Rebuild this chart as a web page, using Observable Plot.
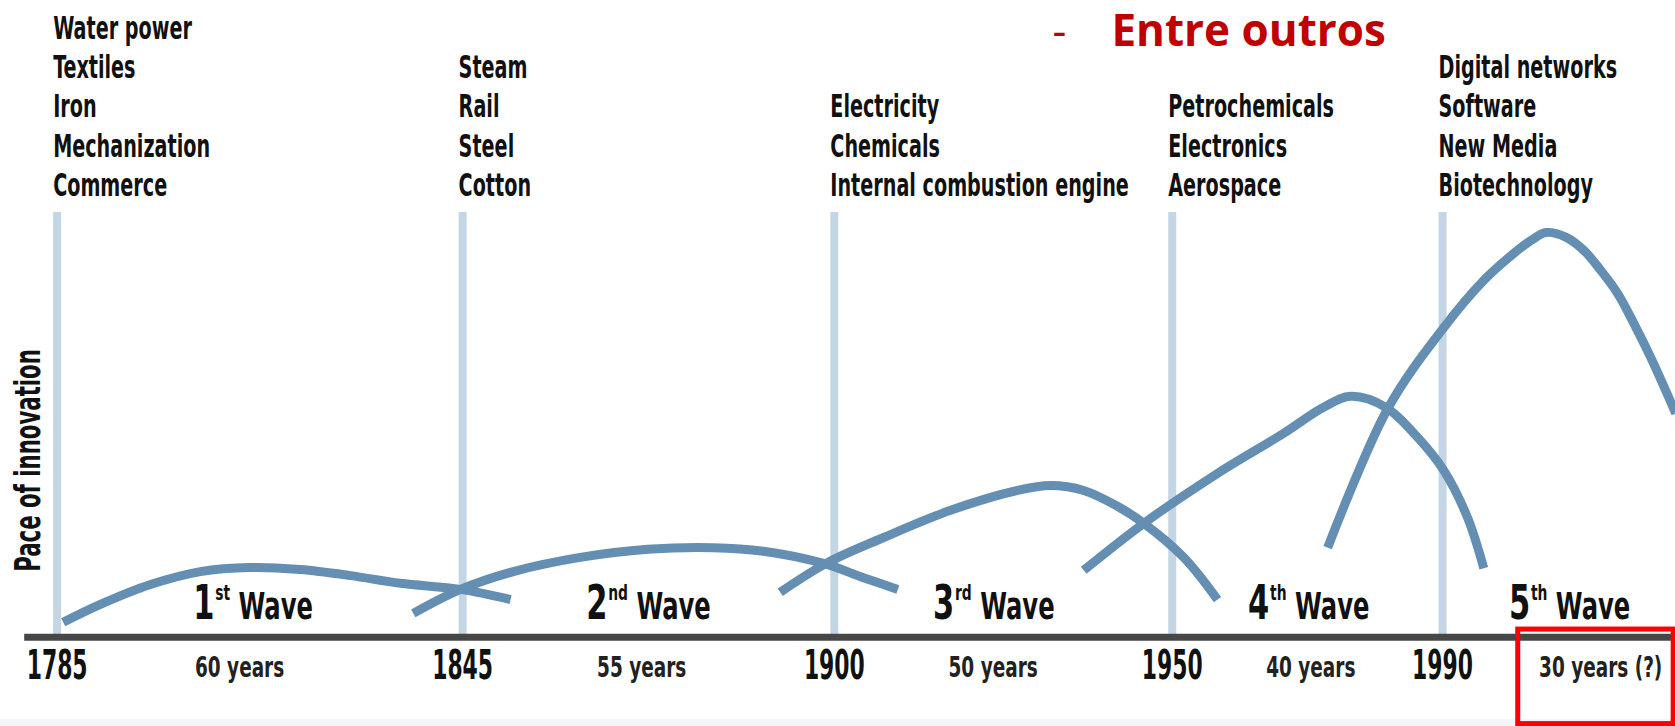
<!DOCTYPE html>
<html>
<head>
<meta charset="utf-8">
<script src="https://cdn.jsdelivr.net/npm/d3@7"></script>
<script src="https://cdn.jsdelivr.net/npm/@observablehq/plot@0.6"></script>
<style>
  html, body { margin: 0; padding: 0; }
  body {
    width: 1675px; height: 726px; overflow: hidden;
    background: linear-gradient(to bottom, #ffffff 0, #ffffff 719px, #f3f5f8 719px);
  }
  #chart svg { display: block; }
</style>
</head>
<body>
<div id="chart"></div>
<script>
// ---------- data ----------
const tickYears = [1785, 1845, 1900, 1950, 1990];
const tickLabels = ["1785", "1845", "1900", "1950", "1990"];

const waveNames = ["1st Wave", "2nd Wave", "3rd Wave", "4th Wave", "5th Wave"];
const waveLabelYears = [1814, 1872.5, 1923.6, 1970.2, 2008.8];

const durationLabels = ["60 years", "55 years", "50 years", "40 years", "30 years (?)"];
const durationLabelYears = [1812, 1871.5, 1923.5, 1970.5, 2013.4];

const tech1 = ["Water power", "Textiles", "Iron", "Mechanization", "Commerce"];
const tech2 = ["Steam", "Rail", "Steel", "Cotton"];
const tech3 = ["Electricity", "Chemicals", "Internal combustion engine"];
const tech4 = ["Petrochemicals", "Electronics", "Aerospace"];
const tech5 = ["Digital networks", "Software", "New Media", "Biotechnology"];
const technologies = [tech1, tech2, tech3, tech4, tech5];

// [year, pace of innovation]
const wave1 = [[1785.9, 3.7], [1791.4, 8.1], [1798.8, 13.0], [1806.2, 16.2], [1813.6, 17.2],
               [1821.0, 16.7], [1828.4, 15.2], [1835.8, 13.3], [1844.7, 11.8], [1852.1, 9.3]];
const wave2 = [[1837.7, 5.9], [1844.7, 11.8], [1852.5, 16.2], [1862.4, 19.7], [1872.4, 21.7],
               [1882.1, 22.1], [1889.5, 21.2], [1898.4, 18.2], [1904.3, 14.7], [1909.4, 11.8]];
const wave3 = [[1892.0, 11.1], [1899.0, 18.4], [1907.3, 24.6], [1917.2, 31.3], [1927.1, 36.2],
               [1932.0, 37.4], [1936.9, 36.2], [1941.9, 32.3], [1945.8, 28.1], [1951.7, 19.7], [1956.7, 9.3]];
const wave4 = [[1936.9, 16.5], [1945.8, 28.1], [1956.7, 40.4], [1966.5, 50.3], [1972.4, 56.7],
               [1976.4, 59.4], [1981.6, 56.7], [1986.3, 49.3], [1990.2, 41.1], [1993.7, 29.5], [1996.1, 17.0]];
const wave5 = [[1973.0, 22.1], [1981.9, 56.4], [1990.2, 76.4], [1996.1, 88.0], [2001.1, 95.4],
               [2003.5, 98.3], [2005.3, 99.8], [2008.3, 98.6], [2010.9, 95.4], [2013.4, 90.5],
               [2015.9, 84.8], [2018.3, 77.4], [2020.8, 69.0], [2024.5, 55.2]];

const yTitle = "Pace of innovation";
const noteDash = "-";
const noteText = "Entre outros";

// ---------- chart ----------
const FONT = '"Liberation Sans Narrow", "DejaVu Sans Condensed", "Arial Narrow", sans-serif';
const waves = [wave1, wave2, wave3, wave4, wave5];
const waveRows = waves.flatMap((pts, i) => pts.map(([year, pace]) => ({wave: i + 1, year, pace})));
const idx = tickYears.map((_, i) => i);

const chart = Plot.plot({
  width: 1675,
  height: 726,
  margin: 0,
  x: {domain: [1776.62, 2024.47], axis: null},
  y: {domain: [-22, 157], axis: null},
  style: {background: "transparent", overflow: "hidden", fontFamily: FONT, color: "#111"},
  marks: [
    Plot.ruleX(tickYears, {x: d => d, y1: 0, y2: 104.7, stroke: "#c4d5e4", strokeWidth: 8}),
    Plot.line(waveRows, {x: "year", y: "pace", z: "wave", curve: "catmull-rom",
      stroke: "#648eb2", strokeWidth: 9, strokeLinecap: "butt", strokeLinejoin: "round"}),
    Plot.ruleY([0], {x1: 1780.2, x2: 2024.47, stroke: "#474747", strokeWidth: 7}),
    // technology lists
    Plot.text(technologies, {x: (d, i) => tickYears[i], y: 108.7, text: d => d.join("\n"),
      textAnchor: "start", lineAnchor: "bottom", lineHeight: 1.26, fontSize: 27,
      fontWeight: "bold", dx: -4, fill: "#111"}),
    // tick labels
    Plot.text(idx, {x: i => tickYears[i], y: -10.2, text: i => tickLabels[i],
      textAnchor: "middle", lineAnchor: "bottom", fontSize: 32, fontWeight: "bold", fill: "#111"}),
    // durations
    Plot.text(idx, {x: i => durationLabelYears[i], y: -9.9, text: i => durationLabels[i],
      textAnchor: "middle", lineAnchor: "bottom", fontSize: 26, fontWeight: "bold", fill: "#222"}),
    // wave labels
    Plot.text(idx, {x: i => waveLabelYears[i], y: 4.6, text: i => waveNames[i],
      textAnchor: "middle", lineAnchor: "bottom", fontSize: 35, fontWeight: "bold", fill: "#111"}),
    // y title
    Plot.text([yTitle], {x: 1782.5, y: 43.6, text: d => d, rotate: -90,
      textAnchor: "middle", lineAnchor: "bottom", fontSize: 28.5, fontWeight: "bold", fill: "#111"}),
    // note
    Plot.text([noteDash], {x: 1932.3, y: 145.9, text: d => d, textAnchor: "start", lineAnchor: "bottom",
      fontFamily: '"Open Sans", sans-serif', fontSize: 43, fontWeight: "normal", fill: "#c00000"}),
    Plot.text([noteText], {x: 1941.0, y: 145.9, text: d => d, textAnchor: "start", lineAnchor: "bottom",
      fontFamily: '"Open Sans", sans-serif', fontSize: 44, fontWeight: "bold", fill: "#c00000"}),
    // highlight box
    Plot.rect([0], {x1: 2001.2, x2: 2024.2, y1: -21.4, y2: 1.9, fill: "none", stroke: "#ff0000", strokeWidth: 5})
  ]
});

document.getElementById("chart").append(chart);

// ---------- typographic touches (narrow, tall lettering like the original; superscripts) ----------
const NS = "http://www.w3.org/2000/svg";
function shape(el, sx, sy) {
  const t = el.getAttribute("transform");
  if (t) el.setAttribute("transform", t + ` scale(${sx},${sy})`);
}
const techStrings = technologies.map(t => t.join(""));
chart.querySelectorAll("text").forEach(el => {
  const s = el.textContent;
  const m = /^(\d)(st|nd|rd|th) Wave$/.exec(s);
  if (m) {
    el.textContent = "";
    const a = document.createElementNS(NS, "tspan");
    a.textContent = m[1]; a.setAttribute("font-size", "44");
    const b = document.createElementNS(NS, "tspan");
    b.textContent = m[2]; b.setAttribute("font-size", "20"); b.setAttribute("dy", "-17"); b.setAttribute("dx", "1");
    const c = document.createElementNS(NS, "tspan");
    c.textContent = " Wave"; c.setAttribute("font-size", "35"); c.setAttribute("dy", "17");
    el.append(a, b, c);
    shape(el, 0.77, 1.08);
  } else if (tickLabels.includes(s)) {
    shape(el, 0.76, 1.27);
  } else if (durationLabels.includes(s)) {
    shape(el, 0.79, 1.1);
  } else if (techStrings.includes(s)) {
    shape(el, 0.79, 1.16);
  } else if (s === yTitle) {
    shape(el, 0.83, 1.25);
  }
});
</script>
</body>
</html>
